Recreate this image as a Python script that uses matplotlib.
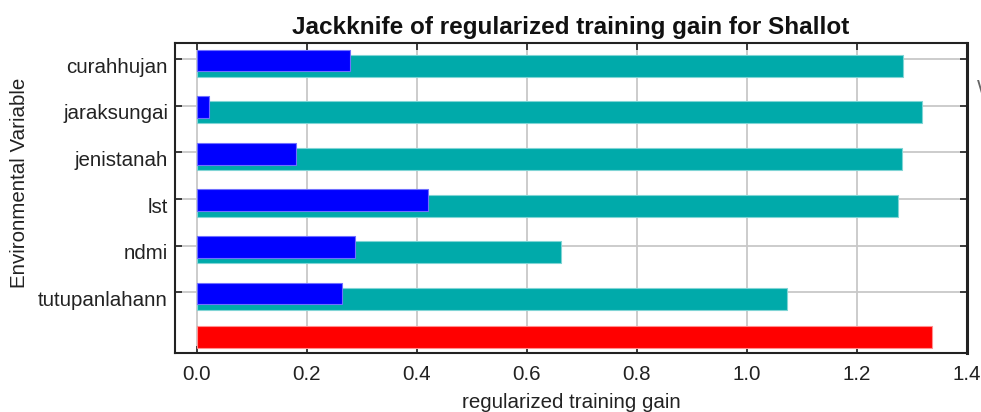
import matplotlib
matplotlib.use('Agg')
import matplotlib.pyplot as plt
import matplotlib.transforms as mtransforms
import numpy as np

# Jackknife values
variables = ['curahhujan', 'jaraksungai', 'jenistanah', 'lst', 'ndmi', 'tutupanlahann']
without_var = [1.284, 1.318, 1.281, 1.275, 0.662, 1.072]   # teal
only_var = [0.279, 0.023, 0.180, 0.420, 0.288, 0.265]      # blue
all_vars = 1.336                                           # red
xticks = [0.0, 0.2, 0.4, 0.6, 0.8, 1.0, 1.2, 1.4]

plt.rcParams['font.family'] = ['Liberation Sans', 'DejaVu Sans']

fig = plt.figure(figsize=(9.81, 4.12), dpi=100)
ax = fig.add_axes([175/981, 1-352.7/412, 792/981, 309.4/412])

pos = np.arange(len(variables))
bh = 0.47
ax.barh(pos + 0.14, without_var, height=bh, color='#00aaaa', edgecolor='#80d5d5', linewidth=0.8, zorder=2)
ax.barh(pos + 0.026, only_var, height=bh, color='#0000ff', edgecolor='#7070ff', linewidth=0.8, zorder=3)
ax.barh([len(variables) - 0.04], [all_vars], height=bh, color='#ff0000', edgecolor='#ff9090', linewidth=0.8, zorder=2)

ax.set_xlim(-0.0394, 1.4)
ax.set_ylim(6.296, -0.343)
ax.set_xticks(xticks)
ax.set_xticklabels(['%.1f' % t for t in xticks])
ax.set_yticks(pos)
ax.set_yticklabels(variables)

ax.grid(True, color='#c8c8c8', linewidth=1.3, zorder=0)
ax.set_axisbelow(True)

ax.tick_params(axis='both', direction='in', length=5, width=1.2, color='#222222',
               labelsize=14.8, labelcolor='#222222')
ax.tick_params(axis='x', top=True, pad=9)
ax.tick_params(axis='y', right=True, pad=5)

# labels in the original sit a few pixels below their ticks
shift = mtransforms.ScaledTranslation(0, -6/100, fig.dpi_scale_trans)
for lab in ax.get_yticklabels():
    lab.set_transform(lab.get_transform() + shift)

for s in ax.spines.values():
    s.set_color('#222222')
    s.set_linewidth(1.5)
ax.spines['right'].set_linewidth(2.2)

ax.set_title('Jackknife of regularized training gain for Shallot', fontsize=17.5,
             fontweight='bold', color='#111111', pad=7)
ax.set_xlabel('regularized training gain', fontsize=14.8, color='#222222')
ax.xaxis.label.set_verticalalignment('center')
ax.xaxis.set_label_coords(0.5, (352.7-403)/309.4)
ax.set_ylabel('Environmental Variable', fontsize=14.8, color='#222222')
ax.yaxis.label.set_verticalalignment('center')
ax.yaxis.set_label_coords(-0.196, 0.55)

# legend is cut off at the right edge in the original
fig.text(977/981, 1-88/412, 'Without variable', fontsize=14.8, color='#666666',
         ha='left', va='center')

fig.savefig('out.png', dpi=100)
